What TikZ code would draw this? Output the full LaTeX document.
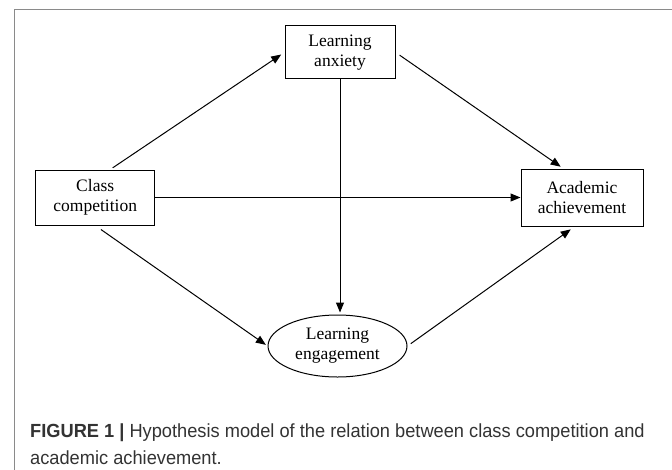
\documentclass[tikz,border=0pt]{standalone}
\usepackage{fontspec}
\setmainfont{Liberation Serif}
\newfontfamily\capfont[FakeStretch=0.96]{Liberation Sans}
\usetikzlibrary{arrows.meta,shapes.geometric,calc}
\definecolor{capgray}{HTML}{333333}
\definecolor{framegray}{HTML}{8A8A8A}
\begin{document}
\begin{tikzpicture}[x=1pt,y=-1pt,
  box/.style={draw,line width=1pt,inner sep=0pt,align=center,font=\fontsize{17.5}{20}\selectfont},
  oval/.style={draw,ellipse,line width=1pt,inner sep=0pt,align=center,font=\fontsize{17.5}{20}\selectfont},
  arr/.style={line width=1pt,-{Triangle[length=10pt,width=8pt]}},
  captxt/.style={anchor=base west,inner sep=0pt,text=capgray,font=\capfont\fontsize{19}{22}\selectfont}]
\useasboundingbox (0,0) rectangle (672,469);
\fill[white] (0,0) rectangle (672,469);
\draw[framegray,line width=1pt] (14,480) -- (14,9.5) -- (690,9.5);
\node[box,minimum width=110pt,minimum height=53pt] (la) at (340,52.3) {Learning\\anxiety};
\node[box,minimum width=119pt,minimum height=55pt] (cc) at (95.2,197.5) {Class\\competition};
\node[box,minimum width=122pt,minimum height=57pt] (aa) at (582,198) {Academic\\achievement};
\node[oval,minimum width=139pt,minimum height=62pt] (le) at (337.5,346) {Learning\\engagement};
\draw[arr,shorten <=3pt,shorten >=4pt] ([xshift=15pt]cc.north) -- (la.west);
\draw[arr,shorten <=5pt,shorten >=4pt] (la.east) -- ([xshift=-18pt]aa.north);
\draw[arr] (cc.east) -- (cc.east -| aa.west);
\draw[arr,shorten >=2pt] (la.south) -- (la.south |- le.north);
\draw[arr,shorten <=7pt,shorten >=2pt] (cc.south) -- (le.west);
\draw[arr,shorten <=4pt,shorten >=4pt] (le.east) -- ([xshift=-8pt]aa.south);
\node[captxt] (cap1) at (30,437.5) {\textbf{FIGURE 1 |} Hypothesis model of the relation between class competition and};
\node[captxt] (cap2) at (30,464) {academic achievement.};
\end{tikzpicture}
\end{document}
